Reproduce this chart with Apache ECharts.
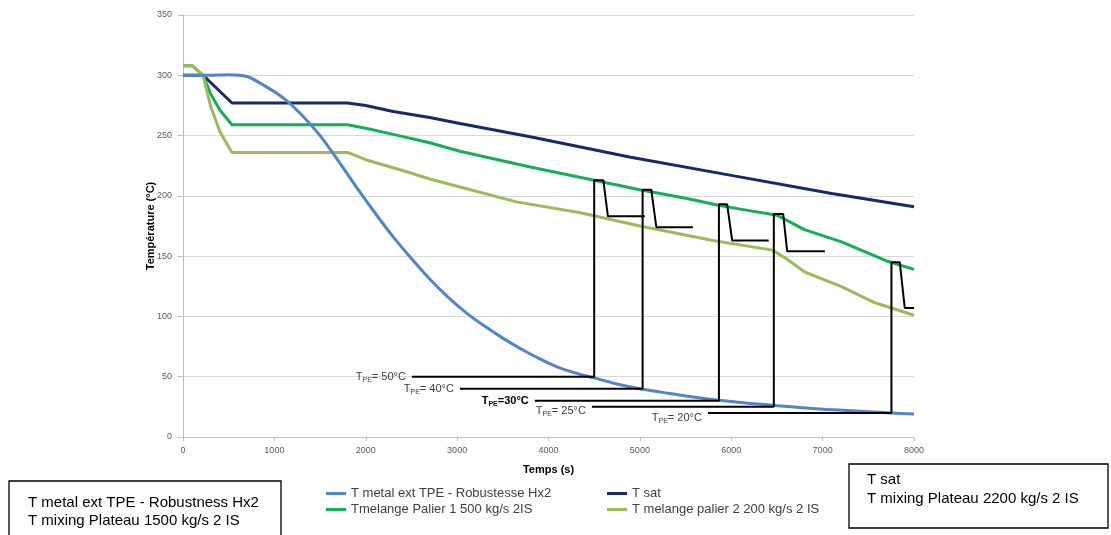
<!DOCTYPE html>
<html>
<head>
<meta charset="utf-8">
<script src="https://cdn.jsdelivr.net/npm/echarts@6/dist/echarts.min.js"></script>
<style>html,body{margin:0;padding:0;background:#fff;}#c{width:1111px;height:535px;}</style>
</head>
<body>
<div id="c"></div>
<script>
// ---- data (time s, temperature °C) ----
const xTicks = [0, 1000, 2000, 3000, 4000, 5000, 6000, 7000, 8000];
const yTicks = [0, 50, 100, 150, 200, 250, 300, 350];

const metalT = [0, 250, 500, 700, 900, 1100, 1300, 1500, 1700, 1900, 2100, 2300, 2500, 2700, 2900, 3100, 3300, 3500, 3700, 3900, 4100, 4300, 4500, 4750, 5000, 5250, 5500, 5750, 6000, 6250, 6500, 6750, 7000, 7250, 7500, 7750, 8000];
const metalV = [300, 300, 300.5, 299, 291, 281, 267, 250, 229, 207, 186, 166, 148, 131, 116, 103, 92, 82, 73, 65, 58, 53, 49, 44, 40, 37, 34, 31.5, 29.5, 27.5, 26, 24.5, 23, 22, 21, 20, 19];

const satT = [0, 220, 536, 1800, 2000, 2300, 2700, 3030, 3800, 4900, 6000, 7100, 8000];
const satV = [300, 300, 277, 277, 275, 270, 265, 260, 249, 232, 217, 202, 191];

const mel1T = [0, 100, 220, 300, 405, 536, 1800, 2000, 2300, 2700, 3030, 3800, 4500, 5000, 5500, 5875, 6100, 6500, 6800, 7200, 7700, 8000];
const mel1V = [308, 308, 300, 285, 271, 259, 259, 256, 251, 244, 237, 224, 213, 205, 198, 192, 189, 184, 172, 162, 146, 139];

const mel2T = [0, 100, 220, 300, 405, 536, 1800, 2000, 2450, 2700, 3000, 3650, 4350, 5000, 5800, 6450, 6600, 6800, 7200, 7550, 8000];
const mel2V = [308, 308, 300, 275, 253, 236, 236, 230, 220, 214, 208, 195, 186, 175, 163, 155, 148, 137, 125, 112, 101];

// annotation polylines: T_PE level line, rise, peak, drop, plateau
const pe50T = [2505, 4500, 4500, 4600, 4650, 5055];
const pe50V = [50, 50, 213, 213, 183, 183];
const pe40T = [3030, 5030, 5030, 5125, 5180, 5580];
const pe40V = [40, 40, 205, 205, 174, 174];
const pe30T = [3850, 5865, 5865, 5955, 6010, 6410];
const pe30V = [30, 30, 193, 193, 163, 163];
const pe25T = [4475, 6466, 6466, 6568, 6612, 7024];
const pe25V = [25, 25, 185, 185, 154, 154];
const pe20T = [5744, 7753, 7753, 7844, 7899, 8000];
const pe20V = [20, 20, 145, 145, 107, 107];

const seriesNames = ["T metal ext TPE - Robustesse Hx2", "T sat", "Tmelange Palier 1 500 kg/s 2IS", "T melange palier 2 200 kg/s 2 IS"];
const peLabels = ["50°C", "40°C", "30°C", "25°C", "20°C"];
const boxLeft = ["T metal ext TPE - Robustness Hx2", "T mixing Plateau 1500 kg/s 2 IS"];
const boxRight = ["T sat", "T mixing Plateau 2200 kg/s 2 IS"];

// ---- build ----
const zip = (t, v) => t.map((x, i) => [x, v[i]]);
const FONT = '"Liberation Sans", Arial, sans-serif';

function mainLine(name, t, v, color, smooth) {
  return {
    name, type: 'line', data: zip(t, v), showSymbol: false, symbol: 'none',
    smooth: smooth || false, lineStyle: { color, width: 3 }, itemStyle: { color },
    silent: true
  };
}

function peLine(t, v, labelText, bold, off) {
  const d = zip(t, v).map((p, i) => {
    if (i !== 0) return p;
    return {
      value: p,
      label: {
        show: true, position: 'left', distance: 6, offset: off || [0, 0],
        formatter: bold ? 'T{sb|PE}{b|=' + labelText + '}' : 'T{s|PE}= ' + labelText,
        fontFamily: FONT, fontSize: 11, lineHeight: 14,
        color: bold ? '#000' : '#404040', fontWeight: bold ? 'bold' : 'normal',
        rich: {
          s: { fontSize: 7, lineHeight: 14, verticalAlign: 'bottom', color: '#404040', fontFamily: FONT },
          sb: { fontSize: 7, lineHeight: 14, verticalAlign: 'bottom', color: '#000', fontWeight: 'bold', fontFamily: FONT },
          b: { fontSize: 11, lineHeight: 14, color: '#000', fontWeight: 'bold', fontFamily: FONT }
        }
      }
    };
  });
  return {
    type: 'line', data: d, showSymbol: true, symbol: 'circle', symbolSize: 0, silent: true,
    itemStyle: { color: '#000' },
    lineStyle: { color: '#000', width: 2 }, z: 5, legendHoverLink: false
  };
}

const chart = echarts.init(document.getElementById('c'), null, { renderer: 'canvas' });
const legendCommon = {
  orient: 'vertical', itemWidth: 20, itemHeight: 3, icon: 'rect', itemGap: 3,
  textStyle: { fontFamily: FONT, fontSize: 13, color: '#404040' }, selectedMode: false
};

function boxGroup(x, y, w, h, lines, tx, ty, lh) {
  const children = [{ type: 'rect', shape: { x, y, width: w, height: h }, style: { fill: '#fff', stroke: '#000', lineWidth: 1.3 } }];
  lines.forEach((s, i) => children.push({
    type: 'text', x: tx, y: ty + i * lh,
    style: { text: s, font: '15px ' + FONT, fill: '#000', textVerticalAlign: 'middle' }
  }));
  return { type: 'group', children };
}

chart.setOption({
  animation: false,
  backgroundColor: '#fff',
  grid: { left: 183, right: 197, top: 15, bottom: 98, containLabel: false },
  xAxis: {
    type: 'value', min: xTicks[0], max: xTicks[xTicks.length - 1], interval: 1000,
    name: 'Temps (s)', nameLocation: 'middle', nameGap: 27,
    nameTextStyle: { fontFamily: FONT, fontSize: 11, fontWeight: 'bold', color: '#000' },
    axisLine: { show: true, lineStyle: { color: '#BFBFBF', width: 1 } },
    axisTick: { show: true, length: 4, lineStyle: { color: '#BFBFBF' } },
    axisLabel: { fontFamily: FONT, fontSize: 9, color: '#595959', margin: 9, formatter: v => String(v) },
    splitLine: { show: false }
  },
  yAxis: {
    type: 'value', min: yTicks[0], max: yTicks[yTicks.length - 1], interval: 50,
    name: 'Température (°C)', nameLocation: 'middle', nameGap: 27, nameRotate: 90,
    nameMoveOverlap: false,
    nameTextStyle: { fontFamily: FONT, fontSize: 11, fontWeight: 'bold', color: '#000' },
    axisLine: { show: true, lineStyle: { color: '#BFBFBF', width: 1 } },
    axisTick: { show: true, length: 5, lineStyle: { color: '#BFBFBF' } },
    axisLabel: { fontFamily: FONT, fontSize: 9, color: '#595959', margin: 11, formatter: v => String(v) },
    splitLine: { show: true, lineStyle: { color: '#D9D9D9', width: 1 } }
  },
  legend: [
    Object.assign({ left: 321, top: 482, data: [seriesNames[0], seriesNames[2]] }, legendCommon),
    Object.assign({ left: 602, top: 482, data: [seriesNames[1], seriesNames[3]] }, legendCommon)
  ],
  series: [
    mainLine(seriesNames[1], satT, satV, '#17296B'),
    mainLine(seriesNames[2], mel1T, mel1V, '#12B057'),
    mainLine(seriesNames[3], mel2T, mel2V, '#9BBB59'),
    mainLine(seriesNames[0], metalT, metalV, '#5085C8', 0.3),
    peLine(pe50T, pe50V, peLabels[0], false),
    peLine(pe40T, pe40V, peLabels[1], false),
    peLine(pe30T, pe30V, peLabels[2], true),
    peLine(pe25T, pe25V, peLabels[3], false, [0, 4]),
    peLine(pe20T, pe20V, peLabels[4], false, [0, 5])
  ],
  graphic: [
    boxGroup(9, 481, 272, 60, boxLeft, 28, 503, 18),
    boxGroup(849, 464, 259, 64, boxRight, 867, 480, 19)
  ]
});
</script>
</body>
</html>
